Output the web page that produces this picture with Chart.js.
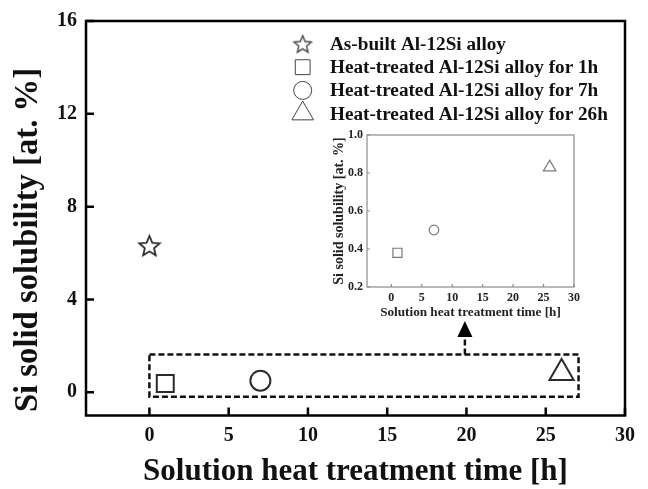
<!DOCTYPE html>
<html>
<head>
<meta charset="utf-8">
<script src="https://cdn.jsdelivr.net/npm/chart.js@4.4.1/dist/chart.umd.min.js"></script>
<style>
  body { margin: 0; background: #fff; }
  #wrap { position: relative; width: 648px; height: 489px; }
  #main { position: absolute; left: 0; top: 0; }
  #inset { position: absolute; left: 318px; top: 118px; }
</style>
</head>
<body>
<div id="wrap">
  <canvas id="main" width="648" height="489"></canvas>
  <canvas id="inset" width="272" height="210"></canvas>
</div>
<script>
const seriesLabels = [
  'As-built Al-12Si alloy',
  'Heat-treated Al-12Si alloy for 1h',
  'Heat-treated Al-12Si alloy for 7h',
  'Heat-treated Al-12Si alloy for 26h'
];
const treatTime = [0, 1, 7, 26];
const siSolubility = [6.32, 0.38, 0.50, 0.83];
const xTicks = [0, 5, 10, 15, 20, 25, 30];
const yTicks = [0, 4, 8, 12, 16];
const insetYTicks = [0.2, 0.4, 0.6, 0.8, 1.0];

// dashed frame around the low values and the arrow up to the inset (axis units)
const zoomBox = { x0: 0, x1: 27.07, y0: -0.19, y1: 1.63 };
const arrow = { x: 19.9, tip: 3.07 };

const SERIF = '"Liberation Serif", "Times New Roman", serif';

// open five-pointed star, Chart.js has no such pointStyle
function starImage(size, color, lw) {
  const c = document.createElement('canvas');
  c.width = c.height = size;
  const g = c.getContext('2d');
  const R = size / 2 - lw;
  const r = R * 0.45;
  const cx = size / 2, cy = size / 2 + R * 0.09;
  g.beginPath();
  for (let i = 0; i < 10; i++) {
    const a = -Math.PI / 2 + i * Math.PI / 5;
    const rad = i % 2 ? r : R;
    g.lineTo(cx + rad * Math.cos(a), cy + rad * Math.sin(a));
  }
  g.closePath();
  g.strokeStyle = color;
  g.lineWidth = lw;
  g.stroke();
  return c;
}

const mainStar = starImage(25, '#2b2b2b', 1.8);
const legendStar = starImage(21, '#444', 1.4);
const shapes = [mainStar, 'rect', 'circle', 'triangle'];
const legendShapes = [legendStar, 'rect', 'circle', 'triangle'];
const mainRadius = [12, 12, 10, 14];
const legendRadius = [10, 10.5, 9, 12.5];
const insetRadius = [0, 6.4, 4.8, 7.2];

const setTicks = values => scale => { scale.ticks = values.map(v => ({ value: v })); };

// frame with short ticks pointing into the plot
function drawFrame(chart, xVals, yVals, color, width, len) {
  const { ctx, chartArea: a, scales: { x, y } } = chart;
  ctx.save();
  ctx.strokeStyle = color;
  ctx.lineWidth = width;
  ctx.strokeRect(a.left, a.top, a.right - a.left, a.bottom - a.top);
  ctx.beginPath();
  xVals.forEach(v => {
    const px = x.getPixelForValue(v);
    ctx.moveTo(px, a.bottom);
    ctx.lineTo(px, a.bottom - len);
  });
  yVals.forEach(v => {
    const py = y.getPixelForValue(v);
    ctx.moveTo(a.left, py);
    ctx.lineTo(a.left + len, py);
  });
  ctx.stroke();
  ctx.restore();
}

const mainDecor = {
  id: 'mainDecor',
  beforeDatasetsDraw(chart) {
    const { ctx, scales: { x, y } } = chart;
    const l = x.getPixelForValue(zoomBox.x0), r = x.getPixelForValue(zoomBox.x1);
    const t = y.getPixelForValue(zoomBox.y1), b = y.getPixelForValue(zoomBox.y0);
    const ax = x.getPixelForValue(arrow.x);
    const tip = y.getPixelForValue(arrow.tip);
    const base = tip + 16;
    ctx.save();
    ctx.strokeStyle = '#111';
    ctx.lineWidth = 2.5;
    ctx.setLineDash([6, 3]);
    ctx.strokeRect(l, t, r - l, b - t);
    ctx.beginPath();
    ctx.moveTo(ax, t);
    ctx.lineTo(ax, base);
    ctx.stroke();
    ctx.setLineDash([]);
    ctx.fillStyle = '#000';
    ctx.beginPath();
    ctx.moveTo(ax, tip);
    ctx.lineTo(ax - 7.5, base);
    ctx.lineTo(ax + 7.5, base);
    ctx.closePath();
    ctx.fill();
    ctx.restore();
  },
  afterDraw(chart) {
    const { ctx } = chart;
    drawFrame(chart, xTicks, yTicks, '#000', 2.5, 8);

    // y title
    ctx.save();
    ctx.fillStyle = '#111';
    ctx.font = 'bold 32.7px ' + SERIF;
    ctx.textAlign = 'center';
    ctx.textBaseline = 'middle';
    ctx.translate(28.5, 240);
    ctx.rotate(-Math.PI / 2);
    ctx.fillText('Si solid solubility [at. %]', 0, 0);
    ctx.restore();

    // legend in the upper right of the plot
    ctx.save();
    ctx.font = 'bold 19.2px ' + SERIF;
    ctx.textAlign = 'left';
    ctx.textBaseline = 'middle';
    chart.data.datasets.forEach((ds, i) => {
      const ly = 44 + i * 23.2;
      ctx.strokeStyle = '#444';
      ctx.fillStyle = 'rgba(0,0,0,0)';
      Chart.helpers.drawPoint(ctx, {
        pointStyle: legendShapes[i], radius: legendRadius[i], rotation: 0, borderWidth: 1.5
      }, 302.7, ly);
      ctx.fillStyle = '#111';
      ctx.fillText(ds.label, 330, ly + 1);
    });
    ctx.restore();
  }
};

new Chart(document.getElementById('main'), {
  type: 'scatter',
  data: {
    datasets: seriesLabels.map((label, i) => ({
      label,
      data: [{ x: treatTime[i], y: siSolubility[i] }],
      pointStyle: shapes[i],
      pointRadius: mainRadius[i],
      pointHoverRadius: mainRadius[i],
      pointBorderWidth: 2,
      pointBorderColor: '#2b2b2b',
      pointBackgroundColor: 'rgba(0,0,0,0)'
    }))
  },
  options: {
    responsive: false,
    animation: false,
    layout: { padding: { top: 19, right: 23, left: 0, bottom: 0 } },
    plugins: { legend: { display: false }, tooltip: { enabled: false } },
    scales: {
      x: {
        type: 'linear', min: -4, max: 30,
        afterBuildTicks: setTicks(xTicks),
        afterFit(scale) { scale.height = 73.5; },
        grid: { display: false, drawTicks: false },
        border: { display: false },
        ticks: { color: '#111', padding: 8, font: { family: SERIF, size: 20, weight: 'bold' } },
        title: {
          display: true, text: 'Solution heat treatment time [h]', color: '#111',
          font: { family: SERIF, size: 31, weight: 'bold', lineHeight: 1 },
          padding: { top: 0, bottom: 1.5 }
        }
      },
      y: {
        type: 'linear', min: -1, max: 16,
        afterBuildTicks: setTicks(yTicks),
        afterFit(scale) { scale.width = 86; },
        grid: { display: false, drawTicks: false },
        border: { display: false },
        ticks: { color: '#111', padding: 9, font: { family: SERIF, size: 20, weight: 'bold' } }
      }
    }
  },
  plugins: [mainDecor]
});

const insetFrame = {
  id: 'insetFrame',
  afterDraw(chart) {
    drawFrame(chart, xTicks, insetYTicks, '#8c8c8c', 1.2, 3);
  }
};

// inset: the three heat-treated samples
new Chart(document.getElementById('inset'), {
  type: 'scatter',
  data: {
    datasets: [1, 2, 3].map(i => ({
      label: seriesLabels[i],
      data: [{ x: treatTime[i], y: siSolubility[i] }],
      pointStyle: shapes[i],
      pointRadius: insetRadius[i],
      pointHoverRadius: insetRadius[i],
      pointBorderWidth: 1.2,
      pointBorderColor: '#7a7a7a',
      pointBackgroundColor: 'rgba(0,0,0,0)'
    }))
  },
  options: {
    responsive: false,
    animation: false,
    layout: { padding: { top: 17, right: 16, left: 0, bottom: 0 } },
    plugins: { legend: { display: false }, tooltip: { enabled: false } },
    scales: {
      x: {
        type: 'linear', min: -4, max: 30,
        afterBuildTicks: setTicks(xTicks),
        afterFit(scale) { scale.height = 41; },
        grid: { display: false, drawTicks: false },
        border: { display: false },
        ticks: { color: '#222', padding: 3.5, font: { family: SERIF, size: 12, weight: 'bold' } },
        title: {
          display: true, text: 'Solution heat treatment time [h]', color: '#222',
          font: { family: SERIF, size: 13.2, weight: 'bold' },
          padding: { top: 0, bottom: 7 }
        }
      },
      y: {
        type: 'linear', min: 0.2, max: 1.0,
        afterBuildTicks: setTicks(insetYTicks),
        afterFit(scale) { scale.width = 49; },
        grid: { display: false, drawTicks: false },
        border: { display: false },
        ticks: {
          color: '#222', padding: 4, font: { family: SERIF, size: 12, weight: 'bold' },
          callback: v => v.toFixed(1)
        },
        title: {
          display: true, text: 'Si solid solubility [at. %]', color: '#222',
          font: { family: SERIF, size: 14, weight: 'bold' },
          padding: { top: 13, bottom: 0 }
        }
      }
    }
  },
  plugins: [insetFrame]
});
</script>
</body>
</html>
